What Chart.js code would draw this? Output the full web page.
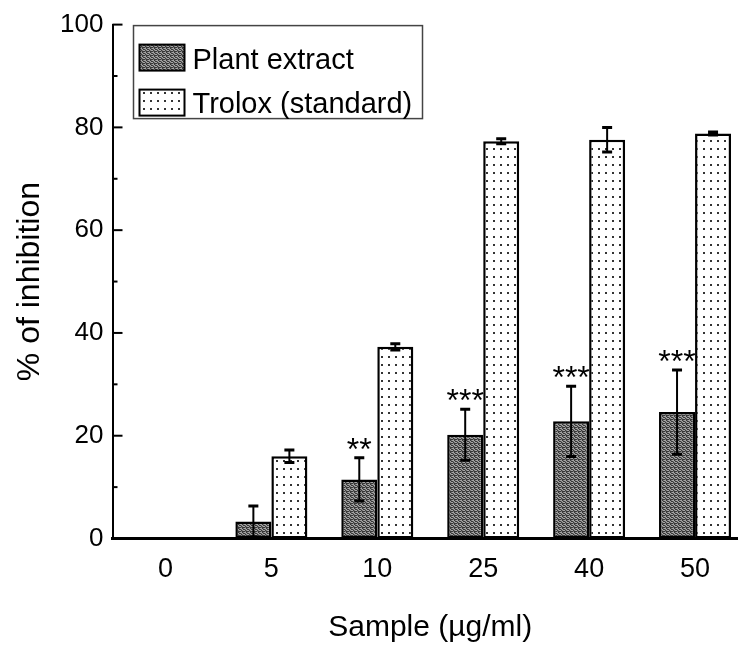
<!DOCTYPE html>
<html>
<head>
<meta charset="utf-8">
<script src="https://cdn.jsdelivr.net/npm/chart.js@4"></script>
<style>
  html, body { margin: 0; padding: 0; background: #fff; overflow: hidden; }
  #wrap { width: 760px; height: 651px; }
</style>
</head>
<body>
<div id="wrap"><canvas id="chart"></canvas></div>
<script>
const categories = ['0', '5', '10', '25', '40', '50'];
const plantExtract = [0, 3.3, 11.5, 20.2, 22.8, 24.6];
const plantErr = [0, 3.0, 4.2, 4.95, 6.85, 8.2];
const trolox = [0, 16.0, 37.3, 77.3, 77.6, 78.8];
const troloxErr = [0, 1.2, 0.6, 0.5, 2.4, 0.3];
const stars = ['', '', '**', '***', '***', '***'];
const yTicks = [0, 20, 40, 60, 80, 100];

const FONT = '"Liberation Sans", Arial, Helvetica, sans-serif';

// ----- fill patterns -----
function plantPattern() {
  const c = document.createElement('canvas');
  c.width = 8; c.height = 4;
  const g = c.getContext('2d');
  g.fillStyle = '#383838';
  g.fillRect(0, 0, 8, 4);
  g.fillStyle = '#a6a6a6';
  [[0,0],[1,0],[4,0],[5,0],[2,1],[6,1],[0,2],[3,2],[4,2],[7,2]].forEach(([x, y]) => g.fillRect(x, y, 1, 1));
  g.fillStyle = '#777';
  [[3,0],[7,0],[1,1],[5,1],[2,2],[6,2],[1,3],[5,3]].forEach(([x, y]) => g.fillRect(x, y, 1, 1));
  return g.createPattern(c, 'repeat');
}

function dotPattern() {
  const c = document.createElement('canvas');
  c.width = 7; c.height = 8;
  const g = c.getContext('2d');
  g.fillStyle = '#fff';
  g.fillRect(0, 0, 7, 8);
  g.fillStyle = '#333';
  g.fillRect(3, 4, 2, 2);
  return g.createPattern(c, 'repeat');
}

// ----- plugins -----
const errorBars = {
  id: 'errorBars',
  afterDatasetsDraw(chart) {
    const { ctx, scales: { y } } = chart;
    const errs = [plantErr, troloxErr];
    chart.data.datasets.forEach((ds, di) => {
      chart.getDatasetMeta(di).data.forEach((bar, i) => {
        const e = errs[di][i];
        if (!e) return;
        const v = ds.data[i];
        const top = y.getPixelForValue(v + e);
        const bot = y.getPixelForValue(v - e);
        ctx.save();
        ctx.strokeStyle = '#000';
        ctx.lineWidth = 2;
        ctx.beginPath();
        ctx.moveTo(bar.x, top);
        ctx.lineTo(bar.x, bot);
        ctx.stroke();
        ctx.lineWidth = 3;
        ctx.beginPath();
        ctx.moveTo(bar.x - 5, top); ctx.lineTo(bar.x + 5, top);
        ctx.moveTo(bar.x - 5, bot); ctx.lineTo(bar.x + 5, bot);
        ctx.stroke();
        ctx.restore();
      });
    });
  }
};

const starLabels = {
  id: 'starLabels',
  afterDatasetsDraw(chart) {
    const { ctx, scales: { y } } = chart;
    const meta = chart.getDatasetMeta(0);
    ctx.save();
    ctx.fillStyle = '#000';
    ctx.font = '32px ' + FONT;
    ctx.textAlign = 'center';
    ctx.textBaseline = 'alphabetic';
    stars.forEach((s, i) => {
      if (!s) return;
      const py = y.getPixelForValue(plantExtract[i] + plantErr[i]);
      ctx.fillText(s, meta.data[i].x, py + 2);
    });
    ctx.restore();
  }
};

const inwardTicks = {
  id: 'inwardTicks',
  afterDraw(chart) {
    const { ctx, scales: { y } } = chart;
    ctx.save();
    ctx.strokeStyle = '#000';
    ctx.lineWidth = 2;
    y.ticks.forEach(t => {
      const py = y.getPixelForValue(t.value);
      const len = yTicks.includes(t.value) ? 10 : 5;
      ctx.beginPath();
      ctx.moveTo(y.right, py);
      ctx.lineTo(y.right + len, py);
      ctx.stroke();
    });
    ctx.restore();
  }
};

const boxLegend = {
  id: 'boxLegend',
  afterDraw(chart) {
    const { ctx, chartArea: a } = chart;
    const x0 = a.left + 21, y0 = a.top + 1;
    ctx.save();
    ctx.strokeStyle = '#444';
    ctx.lineWidth = 1.5;
    ctx.strokeRect(x0, y0, 289, 93);
    ctx.font = '29px ' + FONT;
    ctx.textBaseline = 'alphabetic';
    chart.data.datasets.forEach((ds, i) => {
      const sy = y0 + 19 + i * 45;
      ctx.fillStyle = ds.backgroundColor;
      ctx.fillRect(x0 + 6, sy, 45, 26);
      ctx.lineWidth = 2;
      ctx.strokeStyle = '#000';
      ctx.strokeRect(x0 + 6, sy, 45, 26);
      ctx.fillStyle = '#000';
      ctx.fillText(ds.label, x0 + 59, y0 + 43 + i * 44);
    });
    ctx.restore();
  }
};

new Chart(document.getElementById('chart'), {
  type: 'bar',
  data: {
    labels: categories,
    datasets: [
      {
        label: 'Plant extract',
        data: plantExtract,
        backgroundColor: plantPattern(),
        borderColor: '#000',
        borderWidth: 2.5,
        borderSkipped: false
      },
      {
        label: 'Trolox (standard)',
        data: trolox,
        backgroundColor: dotPattern(),
        borderColor: '#000',
        borderWidth: 2.5,
        borderSkipped: false
      }
    ]
  },
  options: {
    responsive: true,
    maintainAspectRatio: false,
    animation: false,
    layout: { padding: { top: 23, right: 12, left: 0, bottom: 0 } },
    datasets: { bar: { categoryPercentage: 0.68, barPercentage: 1 } },
    plugins: { legend: { display: false }, tooltip: { enabled: false } },
    scales: {
      x: {
        grid: { display: false, drawTicks: false },
        border: { display: true, color: '#000', width: 3 },
        ticks: { color: '#000', font: { family: FONT, size: 27 }, padding: 15 },
        title: {
          display: true, text: 'Sample (µg/ml)', color: '#000',
          font: { family: FONT, size: 30 }, padding: { top: 0, bottom: 5 }
        },
        afterFit(scale) { scale.height = 112.5; }
      },
      y: {
        min: 0, max: 100,
        grid: { display: false, drawTicks: false },
        border: { display: true, color: '#000', width: 2 },
        ticks: {
          stepSize: 10, color: '#000', padding: 9,
          font: { family: FONT, size: 26 },
          callback: (v) => (yTicks.includes(v) ? v : '')
        },
        title: {
          display: true, text: '% of inhibition', color: '#000',
          font: { family: FONT, size: 32 }, padding: { top: 11, bottom: 0 }
        },
        afterFit(scale) { scale.width = 112.5; }
      }
    }
  },
  plugins: [errorBars, starLabels, inwardTicks, boxLegend]
});
</script>
</body>
</html>
